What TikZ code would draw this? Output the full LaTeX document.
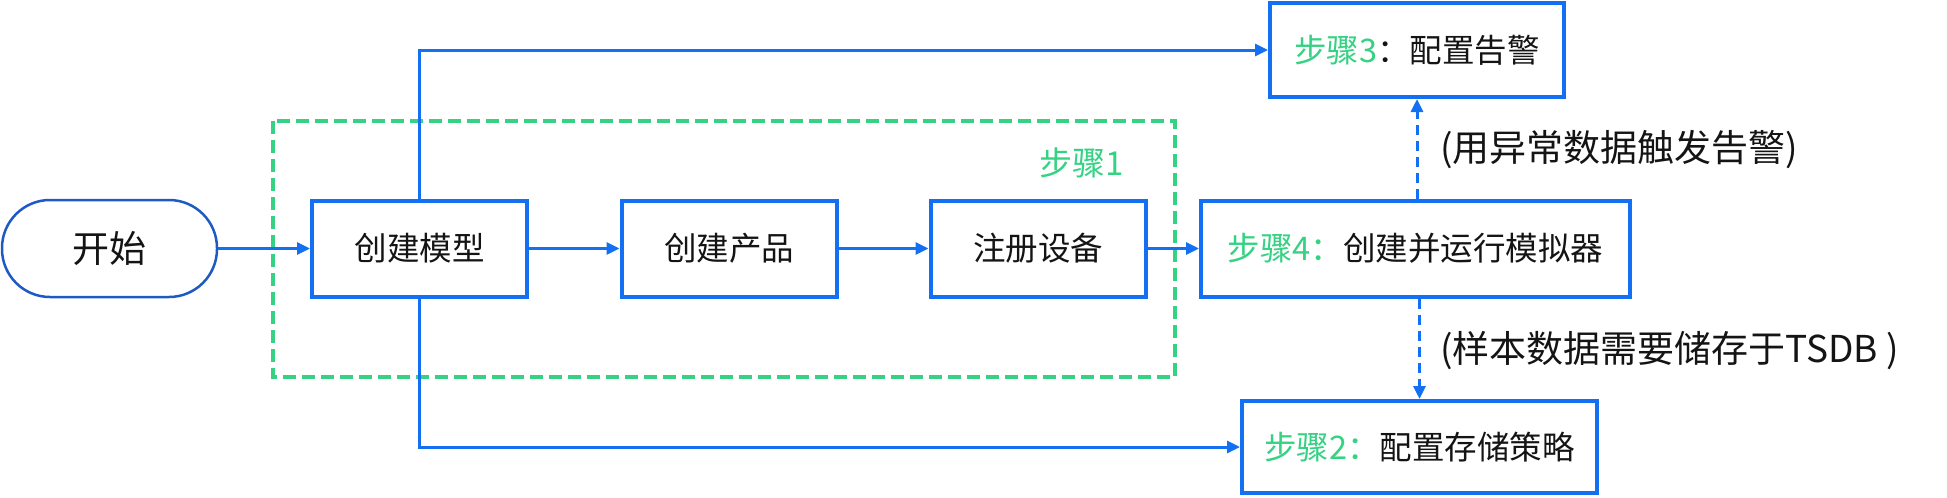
\documentclass[tikz,border=0pt]{standalone}
\usepackage{fontspec}
\setmainfont{Noto Sans CJK SC}
\usetikzlibrary{arrows.meta}
\definecolor{lineblue}{RGB}{20,112,242}
\definecolor{startblue}{RGB}{30,90,196}
\definecolor{stepgreen}{RGB}{54,210,131}
\definecolor{txt}{RGB}{20,20,20}
\tikzset{
  box/.style={draw=lineblue, line width=4pt, fill=white, inner sep=0pt, minimum height=96pt, text=txt, font=\fontsize{32.5}{38}\selectfont},
  startbox/.style={draw=startblue, line width=2.5pt, rounded corners=48pt, inner sep=0pt, minimum width=215pt, minimum height=97pt, text=txt, font=\fontsize{37}{44}\selectfont},
  conn/.style={draw=lineblue, line width=3pt, -{Triangle[length=13pt,width=12pt]}},
  dconn/.style={conn, dash pattern=on 10pt off 6pt},
  grp/.style={draw=stepgreen, line width=3.5pt, dash pattern=on 13pt off 6pt},
  lbl/.style={text=txt, inner sep=0pt, anchor=west, font=\fontsize{37}{44}\selectfont},
  glbl/.style={text=stepgreen, inner sep=0pt, font=\fontsize{33}{40}\selectfont},
}
\newcommand{\stp}[1]{\textcolor{stepgreen}{步骤#1}}
\begin{document}
\begin{tikzpicture}[x=1pt,y=-1pt]
\useasboundingbox (0,0) rectangle (1947,498);
\draw[grp] (273,121) rectangle (1175,377);
\node[glbl] (g1) at (1082,163) {步骤1};
\node[startbox] (start) at (109.5,248.5) {开始};
\node[box, minimum width=215pt] (b1) at (419.5,248.5) {创建模型};
\node[box, minimum width=215pt] (b2) at (729,248.5) {创建产品};
\node[box, minimum width=215pt] (b3) at (1038,248.5) {注册设备};
\node[box, minimum width=429pt] (b4) at (1415.5,248.5) {\textcolor{stepgreen}{步骤4：}创建并运行模拟器};
\node[box, minimum width=294pt, minimum height=94pt] (s3) at (1417,50) {\stp{3}：配置告警};
\node[box, minimum width=355pt, minimum height=92pt] (s2) at (1419.5,447) {\textcolor{stepgreen}{步骤2：}配置存储策略};
\draw[conn] (start) -- (b1);
\draw[conn] (b1) -- (b2);
\draw[conn] (b2) -- (b3);
\draw[conn] (b3) -- (b4);
\draw[conn] (b1.north) |- (s3.west);
\draw[conn] (b1.south) |- (s2.west);
\draw[dconn] (b4.north -| s3.south) -- (s3.south);
\draw[dconn] (b4.south -| s2.north) -- (s2.north);
\node[lbl] (l1) at (1440,150) {(用异常数据触发告警)};
\node[lbl] (l2) at (1440,351) {(样本数据需要储存于TSDB )};
\end{tikzpicture}
\end{document}
